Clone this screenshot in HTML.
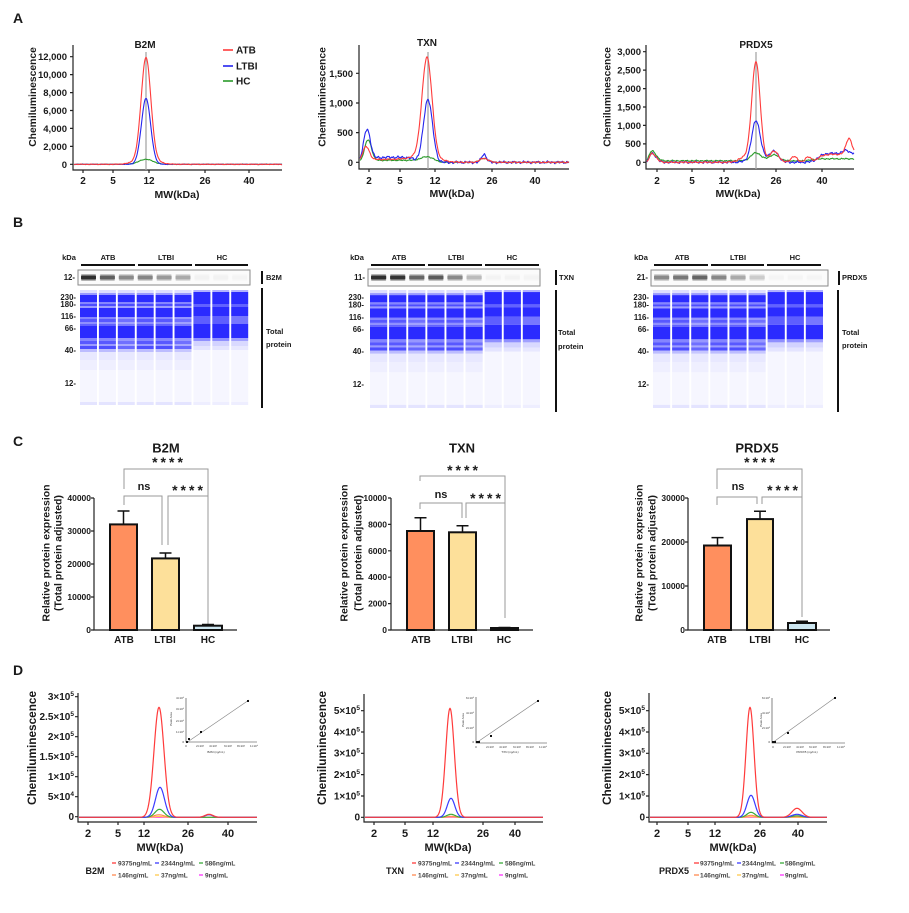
<!DOCTYPE html>
<html><head><meta charset="utf-8"><style>
html,body{margin:0;padding:0;background:#fff;}
svg{display:block;font-family:"Liberation Sans",Arial,sans-serif;font-weight:bold;}
</style></head><body>
<svg id="s" width="909" height="913" viewBox="0 0 909 913" xmlns="http://www.w3.org/2000/svg">
<rect width="909" height="913" fill="#fff"/>
<!-- static shapes -->
<g fill="none" stroke="#222" stroke-width="1.2">
  <!-- A axes -->
  <path d="M73 45V170H282"/>
  <path d="M70 56.7H73M70 74.6H73M70 92.6H73M70 110.5H73M70 128.4H73M70 146.4H73M70 164.3H73M83 170v3M113 170v3M149 170v3M205 170v3M249 170v3"/>
  <path d="M359 45V169H569"/>
  <path d="M356 73.3H359M356 103H359M356 132.6H359M356 162.3H359M369 169v3M400 169v3M435 169v3M492 169v3M535 169v3"/>
  <path d="M646 45V169H854"/>
  <path d="M643 51.7H646M643 70.1H646M643 88.6H646M643 107H646M643 125.4H646M643 143.9H646M643 162.3H646M657 169v3M692 169v3M724 169v3M776 169v3M822 169v3"/>
  <!-- C axes -->
  <path d="M94 498V630H237"/>
  <path d="M91 498H94M91 531H94M91 564H94M91 597H94M91 630H94"/>
  <path d="M391 498V630H533"/>
  <path d="M388 498H391M388 524.4H391M388 550.8H391M388 577.2H391M388 603.6H391M388 630H391"/>
  <path d="M688 498V630H830"/>
  <path d="M685 498H688M685 542H688M685 586H688M685 630H688"/>
  <!-- D axes -->
  <path d="M78 693V822H257"/>
  <path d="M75 696.7H78M75 716.7H78M75 736.7H78M75 756.7H78M75 776.7H78M75 796.7H78M75 816.7H78M88 822v3M118 822v3M144 822v3M188 822v3M228 822v3"/>
  <path d="M364 694V822H543"/>
  <path d="M361 710.7H364M361 732H364M361 753.3H364M361 774.6H364M361 796H364M361 817.3H364M374 822v3M405 822v3M433 822v3M483 822v3M515 822v3"/>
  <path d="M649 693V822H827"/>
  <path d="M646 710.7H649M646 732H649M646 753.3H649M646 774.6H649M646 796H649M646 817.3H649M657 822v3M688 822v3M715 822v3M760 822v3M798 822v3"/>
</g>
<!-- A gray marker lines -->
<g stroke="#a8a8a8" stroke-width="1.3">
  <path d="M146 52V170M428 52V169M756 52V169"/>
</g>
<!-- A legend lines -->
<path d="M223 50H233" stroke="#ff3b3b" stroke-width="1.6"/>
<path d="M223 66H233" stroke="#2424ee" stroke-width="1.6"/>
<path d="M223 81H233" stroke="#2a9a2a" stroke-width="1.6"/>

<!-- B group bars and boxes -->
<g stroke="#111" stroke-width="2">
  <path d="M81 265H135M138 265H192M195 265H248"/>
  <path d="M371 265H425M428 265H482M485 265H539"/>
  <path d="M654 265H708M711 265H764M767 265H821"/>
  <path d="M262 271V284M556 270V285M839 271V285"/>
  <path d="M262 288V408M556 290V412M838 290V412"/>
</g>
<rect x="78" y="270" width="172" height="15" fill="#fbfbfb" stroke="#8a8a8a" stroke-width="1"/>
<rect x="368" y="269" width="172" height="17" fill="#fbfbfb" stroke="#8a8a8a" stroke-width="1"/>
<rect x="651" y="270" width="177" height="16" fill="#fbfbfb" stroke="#8a8a8a" stroke-width="1"/>

<g id="dyn"></g>

<!-- C brackets -->
<g fill="none" stroke="#9a9a9a" stroke-width="1">
  <path d="M124 489V469H208V625"/>
  <path d="M124 505V496H162V545"/>
  <path d="M168 545V496H208"/>
  <path d="M420 481V476H505V618"/>
  <path d="M420 509V503H462V518"/>
  <path d="M466 518V503H505"/>
  <path d="M717 489V469H802V617"/>
  <path d="M717 505V497H757V504"/>
  <path d="M762 504V497H802"/>
</g>
<!-- C bars -->
<g stroke="#111" stroke-width="2">
  <rect x="110" y="524.4" width="27" height="105.6" fill="#ff8f5e"/>
  <rect x="152" y="558.4" width="27" height="71.6" fill="#fde09a"/>
  <rect x="194" y="625.7" width="28" height="4.3" fill="#cde6f0"/>
  <rect x="407" y="531" width="27" height="99" fill="#ff8f5e"/>
  <rect x="449" y="532.3" width="27" height="97.7" fill="#fde09a"/>
  <rect x="491" y="628" width="27" height="2" fill="#cde6f0"/>
  <rect x="704" y="545.5" width="27" height="84.5" fill="#ff8f5e"/>
  <rect x="747" y="519.1" width="26" height="110.9" fill="#fde09a"/>
  <rect x="788" y="623" width="28" height="7" fill="#cde6f0"/>
</g>
<g stroke="#111" stroke-width="1.5" fill="none">
  <path d="M123.5 524V511M117.5 511H129.5"/>
  <path d="M165.5 558V553M159.5 553H171.5"/>
  <path d="M208 625V624M202 624.5H214"/>
  <path d="M420.5 531V517.8M414.5 517.8H426.5"/>
  <path d="M462.5 532V525.7M456.5 525.7H468.5"/>
  <path d="M504.5 627.5H510.5M498.5 627.5H504.5"/>
  <path d="M717.5 545V537.6M711.5 537.6H723.5"/>
  <path d="M760 519V511.2M754 511.2H766"/>
  <path d="M802 623V621.2M796 621.2H808"/>
</g>

<!-- D insets -->
<g fill="none" stroke="#333" stroke-width="0.6">
  <path d="M186 698V742H257"/>
  <path d="M476 697V743H547"/>
  <path d="M772 698V743H845"/>
</g>
<g stroke="#888" stroke-width="0.7">
  <path d="M186 743L249 700"/>
  <path d="M476 743L539 700"/>
  <path d="M772 743L836 697"/>
</g>
<g fill="#111">
  <rect x="186" y="741" width="2" height="2"/><rect x="188" y="738" width="2" height="2"/><rect x="200" y="731" width="2" height="2"/><rect x="247" y="700" width="2" height="2"/>
  <rect x="476" y="741" width="2" height="2"/><rect x="478" y="741" width="2" height="2"/><rect x="490" y="735" width="2" height="2"/><rect x="537" y="700" width="2" height="2"/>
  <rect x="772" y="741" width="2" height="2"/><rect x="774" y="741" width="2" height="2"/><rect x="787" y="732" width="2" height="2"/><rect x="834" y="697" width="2" height="2"/>
</g>
<!-- D legend lines -->
<g stroke-width="1.3">
  <path d="M112 863H116" stroke="#ff3b3b"/><path d="M155 863H159" stroke="#3b3bff"/><path d="M199 863H203" stroke="#3aaa3a"/>
  <path d="M112 875H116" stroke="#ff8a50"/><path d="M155 875H159" stroke="#ffc94d"/><path d="M199 875H203" stroke="#ff33ff"/>
  <path d="M412 863H416" stroke="#ff3b3b"/><path d="M455 863H459" stroke="#3b3bff"/><path d="M499 863H503" stroke="#3aaa3a"/>
  <path d="M412 875H416" stroke="#ff8a50"/><path d="M455 875H459" stroke="#ffc94d"/><path d="M499 875H503" stroke="#ff33ff"/>
  <path d="M694 863H699" stroke="#ff3b3b"/><path d="M737 863H741" stroke="#3b3bff"/><path d="M780 863H784" stroke="#3aaa3a"/>
  <path d="M694 875H699" stroke="#ff8a50"/><path d="M737 875H741" stroke="#ffc94d"/><path d="M780 875H784" stroke="#ff33ff"/>
</g>

<!-- TEXT -->
<g fill="#1a1a1a">
  <!-- panel letters -->
  <text x="13" y="23" font-size="14">A</text>
  <text x="13" y="227" font-size="14">B</text>
  <text x="13" y="446" font-size="14">C</text>
  <text x="13" y="675" font-size="14">D</text>

  <!-- A left -->
  <text x="145" y="48" font-size="10" text-anchor="middle">B2M</text>
  <g font-size="9.5" text-anchor="end">
    <text x="67" y="60">12,000</text><text x="67" y="78">10,000</text><text x="67" y="96">8,000</text>
    <text x="67" y="114">6,000</text><text x="67" y="132">4,000</text><text x="67" y="150">2,000</text><text x="67" y="168">0</text>
  </g>
  <g font-size="10" text-anchor="middle">
    <text x="83" y="184">2</text><text x="113" y="184">5</text><text x="149" y="184">12</text><text x="205" y="184">26</text><text x="249" y="184">40</text>
  </g>
  <text x="177" y="198" font-size="10.5" text-anchor="middle">MW(kDa)</text>
  <text transform="translate(36,97) rotate(-90)" font-size="10.3" text-anchor="middle">Chemiluminescence</text>
  <text x="236" y="53.5" font-size="10">ATB</text>
  <text x="236" y="69.5" font-size="10">LTBI</text>
  <text x="236" y="84.5" font-size="10">HC</text>

  <!-- A middle -->
  <text x="427" y="46" font-size="10" text-anchor="middle">TXN</text>
  <g font-size="9.5" text-anchor="end">
    <text x="353" y="77">1,500</text><text x="353" y="106.5">1,000</text><text x="353" y="136">500</text><text x="353" y="166">0</text>
  </g>
  <g font-size="10" text-anchor="middle">
    <text x="369" y="184">2</text><text x="400" y="184">5</text><text x="435" y="184">12</text><text x="492" y="184">26</text><text x="535" y="184">40</text>
  </g>
  <text x="452" y="197" font-size="10.5" text-anchor="middle">MW(kDa)</text>
  <text transform="translate(325.5,97) rotate(-90)" font-size="10.3" text-anchor="middle">Chemiluminescence</text>

  <!-- A right -->
  <text x="756" y="48" font-size="10" text-anchor="middle">PRDX5</text>
  <g font-size="9.5" text-anchor="end">
    <text x="641" y="55">3,000</text><text x="641" y="73.5">2,500</text><text x="641" y="92">2,000</text><text x="641" y="110.5">1,500</text>
    <text x="641" y="129">1,000</text><text x="641" y="147">500</text><text x="641" y="166">0</text>
  </g>
  <g font-size="10" text-anchor="middle">
    <text x="657" y="184">2</text><text x="692" y="184">5</text><text x="724" y="184">12</text><text x="776" y="184">26</text><text x="822" y="184">40</text>
  </g>
  <text x="738" y="197" font-size="10.5" text-anchor="middle">MW(kDa)</text>
  <text transform="translate(610.5,97) rotate(-90)" font-size="10.3" text-anchor="middle">Chemiluminescence</text>

  <!-- B -->
  <g font-size="7.5" text-anchor="middle">
    <text x="69" y="260">kDa</text><text x="108" y="260">ATB</text><text x="166" y="260">LTBI</text><text x="222" y="260">HC</text>
    <text x="357" y="260">kDa</text><text x="399" y="260">ATB</text><text x="456" y="260">LTBI</text><text x="512" y="260">HC</text>
    <text x="641" y="260">kDa</text><text x="682" y="260">ATB</text><text x="738" y="260">LTBI</text><text x="795" y="260">HC</text>
  </g>
  <g font-size="7.8" text-anchor="end">
    <text x="75" y="280">12-</text>
    <text x="76" y="300">230-</text><text x="76" y="307">180-</text><text x="76" y="319">116-</text><text x="76" y="331">66-</text><text x="76" y="353">40-</text><text x="76" y="386">12-</text>
    <text x="365" y="280">11-</text>
    <text x="364" y="300">230-</text><text x="364" y="307.5">180-</text><text x="364" y="320">116-</text><text x="364" y="332">66-</text><text x="364" y="354">40-</text><text x="364" y="387">12-</text>
    <text x="648" y="280">21-</text>
    <text x="649" y="300">230-</text><text x="649" y="307.5">180-</text><text x="649" y="320">116-</text><text x="649" y="332">66-</text><text x="649" y="354">40-</text><text x="649" y="387">12-</text>
  </g>
  <g font-size="7.5">
    <text x="266" y="280">B2M</text><text x="266" y="334">Total</text><text x="266" y="347">protein</text>
    <text x="559" y="280">TXN</text><text x="558" y="335">Total</text><text x="558" y="349">protein</text>
    <text x="842" y="280">PRDX5</text><text x="842" y="335">Total</text><text x="842" y="348">protein</text>
  </g>

  <!-- C -->
  <text x="166" y="452.5" font-size="13" text-anchor="middle">B2M</text>
  <text x="462" y="452.5" font-size="13" text-anchor="middle">TXN</text>
  <text x="757" y="452.5" font-size="13" text-anchor="middle">PRDX5</text>
  <g font-size="14" letter-spacing="3" text-anchor="middle">
    <text x="169" y="467">****</text>
    <text x="464" y="475">****</text>
    <text x="761" y="467">****</text>
    <text x="189" y="495">****</text>
    <text x="487" y="503">****</text>
    <text x="784" y="495">****</text>
  </g>
  <g font-size="11" text-anchor="middle">
    <text x="144" y="490">ns</text>
    <text x="441" y="498">ns</text>
    <text x="738" y="490">ns</text>
  </g>
  <g font-size="8.5" text-anchor="end">
    <text x="91" y="501">40000</text><text x="91" y="534">30000</text><text x="91" y="567">20000</text><text x="91" y="600">10000</text><text x="91" y="633">0</text>
    <text x="387" y="501">10000</text><text x="387" y="527.4">8000</text><text x="387" y="553.8">6000</text><text x="387" y="580.2">4000</text><text x="387" y="606.6">2000</text><text x="387" y="633">0</text>
    <text x="685" y="501">30000</text><text x="685" y="545">20000</text><text x="685" y="589">10000</text><text x="685" y="633">0</text>
  </g>
  <g font-size="10" text-anchor="middle">
    <text x="124" y="643">ATB</text><text x="165" y="643">LTBI</text><text x="208" y="643">HC</text>
    <text x="421" y="643">ATB</text><text x="462" y="643">LTBI</text><text x="504" y="643">HC</text>
    <text x="717" y="643">ATB</text><text x="760" y="643">LTBI</text><text x="802" y="643">HC</text>
  </g>
  <g font-size="10.5" text-anchor="middle">
    <text transform="translate(49.5,553) rotate(-90)">Relative protein expression</text>
    <text transform="translate(61.5,553) rotate(-90)">(Total protein adjusted)</text>
    <text transform="translate(347.5,553) rotate(-90)">Relative protein expression</text>
    <text transform="translate(361.5,553) rotate(-90)">(Total protein adjusted)</text>
    <text transform="translate(642.5,553) rotate(-90)">Relative protein expression</text>
    <text transform="translate(655.5,553) rotate(-90)">(Total protein adjusted)</text>
  </g>

  <!-- D -->
  <g font-size="10" text-anchor="end">
    <text x="74" y="700">3×10<tspan dy="-4" font-size="6.5">5</tspan></text>
    <text x="74" y="720">2.5×10<tspan dy="-4" font-size="6.5">5</tspan></text>
    <text x="74" y="740">2×10<tspan dy="-4" font-size="6.5">5</tspan></text>
    <text x="74" y="760">1.5×10<tspan dy="-4" font-size="6.5">5</tspan></text>
    <text x="74" y="780">1×10<tspan dy="-4" font-size="6.5">5</tspan></text>
    <text x="74" y="800">5×10<tspan dy="-4" font-size="6.5">4</tspan></text>
    <text x="74" y="820">0</text>
    <text x="360" y="714">5×10<tspan dy="-4" font-size="6.5">5</tspan></text>
    <text x="360" y="735.5">4×10<tspan dy="-4" font-size="6.5">5</tspan></text>
    <text x="360" y="756.5">3×10<tspan dy="-4" font-size="6.5">5</tspan></text>
    <text x="360" y="778">2×10<tspan dy="-4" font-size="6.5">5</tspan></text>
    <text x="360" y="799.5">1×10<tspan dy="-4" font-size="6.5">5</tspan></text>
    <text x="360" y="820.5">0</text>
    <text x="645" y="714">5×10<tspan dy="-4" font-size="6.5">5</tspan></text>
    <text x="645" y="735.5">4×10<tspan dy="-4" font-size="6.5">5</tspan></text>
    <text x="645" y="756.5">3×10<tspan dy="-4" font-size="6.5">5</tspan></text>
    <text x="645" y="778">2×10<tspan dy="-4" font-size="6.5">5</tspan></text>
    <text x="645" y="799.5">1×10<tspan dy="-4" font-size="6.5">5</tspan></text>
    <text x="645" y="820.5">0</text>
  </g>
  <g font-size="11" text-anchor="middle">
    <text x="88" y="837">2</text><text x="118" y="837">5</text><text x="144" y="837">12</text><text x="188" y="837">26</text><text x="228" y="837">40</text>
    <text x="374" y="837">2</text><text x="405" y="837">5</text><text x="433" y="837">12</text><text x="483" y="837">26</text><text x="515" y="837">40</text>
    <text x="657" y="837">2</text><text x="688" y="837">5</text><text x="715" y="837">12</text><text x="760" y="837">26</text><text x="798" y="837">40</text>
    <text x="160" y="851">MW(kDa)</text><text x="448" y="851">MW(kDa)</text><text x="733" y="851">MW(kDa)</text>
  </g>
  <g font-size="11.8" text-anchor="middle">
    <text transform="translate(36,748) rotate(-90)">Chemiluminescence</text>
    <text transform="translate(326,748) rotate(-90)">Chemiluminescence</text>
    <text transform="translate(611,748) rotate(-90)">Chemiluminescence</text>
  </g>
  <g font-size="9" text-anchor="middle">
    <text x="95" y="874">B2M</text><text x="395" y="874">TXN</text><text x="674" y="874">PRDX5</text>
  </g>
  <g font-size="6.5" fill="#444">
    <text x="118" y="865.5">9375ng/mL</text><text x="161" y="865.5">2344ng/mL</text><text x="205" y="865.5">586ng/mL</text>
    <text x="118" y="877.5">146ng/mL</text><text x="161" y="877.5">37ng/mL</text><text x="205" y="877.5">9ng/mL</text>
    <text x="418" y="865.5">9375ng/mL</text><text x="461" y="865.5">2344ng/mL</text><text x="505" y="865.5">586ng/mL</text>
    <text x="418" y="877.5">146ng/mL</text><text x="461" y="877.5">37ng/mL</text><text x="505" y="877.5">9ng/mL</text>
    <text x="700" y="865.5">9375ng/mL</text><text x="742" y="865.5">2344ng/mL</text><text x="785" y="865.5">586ng/mL</text>
    <text x="700" y="877.5">146ng/mL</text><text x="742" y="877.5">37ng/mL</text><text x="785" y="877.5">9ng/mL</text>
  </g>
  <!-- inset tiny labels -->
  <g font-size="3" font-weight="normal" fill="#333">
    <g text-anchor="end">
      <text x="184" y="699">4×10⁶</text><text x="184" y="710">3×10⁶</text><text x="184" y="722">2×10⁶</text><text x="184" y="733">1×10⁶</text><text x="184" y="743">0</text>
      <text x="474" y="699">6×10⁵</text><text x="474" y="714">4×10⁵</text><text x="474" y="729">2×10⁵</text><text x="474" y="743">0</text>
      <text x="770" y="699">6×10⁵</text><text x="770" y="714">4×10⁵</text><text x="770" y="729">2×10⁵</text><text x="770" y="743">0</text>
    </g>
    <g text-anchor="middle">
      <text x="186" y="747">0</text><text x="200" y="747">2×10³</text><text x="213" y="747">4×10³</text><text x="228" y="747">6×10³</text><text x="241" y="747">8×10³</text><text x="254" y="747">1×10⁴</text>
      <text x="476" y="748">0</text><text x="490" y="748">2×10³</text><text x="503" y="748">4×10³</text><text x="517" y="748">6×10³</text><text x="530" y="748">8×10³</text><text x="543" y="748">1×10⁴</text>
      <text x="773" y="748">0</text><text x="787" y="748">2×10³</text><text x="800" y="748">4×10³</text><text x="813" y="748">6×10³</text><text x="827" y="748">8×10³</text><text x="841" y="748">1×10⁴</text>
      <text x="216" y="753">B2M (ng/mL)</text>
      <text x="510" y="753">TXN (ng/mL)</text>
      <text x="807" y="753">PRDX5 (ng/mL)</text>
      <text transform="translate(172,719) rotate(-90)">Peak Area</text>
      <text transform="translate(464,720) rotate(-90)">Peak Area</text>
      <text transform="translate(762,720) rotate(-90)">Peak Area</text>
    </g>
  </g>
</g>
</svg>
<script>
(function(){
var NS='http://www.w3.org/2000/svg';
var g=document.getElementById('dyn');
function el(tag,a){var e=document.createElementNS(NS,tag);for(var k in a)e.setAttribute(k,a[k]);g.appendChild(e);return e;}
function G(x,c,h,s){var t=(x-c)/s;return h*Math.exp(-0.5*t*t);}
function S(x,a,b,k){return 1/(1+Math.exp(-(x-a)/k))/(1+Math.exp((x-b)/k));}
function N(x,seed,a){return a*(Math.sin(x*1.3+seed)*0.6+Math.sin(x*2.9+seed*1.7)*0.4+Math.sin(x*0.55+seed*0.3)*0.3);}
function curve(x0,x1,y0,f,color,w){var d='';for(var x=x0;x<=x1+1e-6;x+=0.5){d+=(d?'L':'M')+x.toFixed(1)+' '+(y0-f(x)).toFixed(2);}el('path',{d:d,fill:'none',stroke:color,'stroke-width':w||1,'stroke-linejoin':'round'});}

var R='#ff3b3b',B='#2424ee',Gr='#2a9a2a';
// A left B2M
curve(74,282,164.3,function(x){return G(x,146,5,7)+N(x,1,0.3);},Gr,1.1);
curve(74,282,164.3,function(x){return G(x,146,66,4.6)+N(x,2,0.2);},B,1.1);
curve(74,282,164.3,function(x){return G(x,146,101,4.8)+G(x,146,6,10)+N(x,3,0.3);},R,1.1);
// A middle TXN
curve(360,569,162.3,function(x){return G(x,368,22,3.5)+2*S(x,372,425,3)+G(x,428,5,6)+G(x,484,4,4)+N(x,4,0.5);},Gr,1.1);
curve(360,569,162.3,function(x){return G(x,367,32,3.5)+5*S(x,372,415,3)+G(x,428,63,4.5)+G(x,484,8,2.5)+N(x,6,1.2);},B,1.1);
curve(360,569,162.3,function(x){return G(x,366,15,3.5)+3*S(x,370,420,3)+G(x,427,100,5)+G(x,427,5,12)+G(x,484,4,4)+N(x,5,0.6);},R,1.1);
// A right PRDX5
curve(647,854,162.3,function(x){return G(x,652,10,4)+1.5+G(x,756,8,5)+G(x,774,6,5)+2*S(x,812,870,3)+N(x,7,0.6)-G(x,647,4,2);},Gr,1.1);
curve(647,854,162.3,function(x){return G(x,652,9,4)+G(x,756,39,4.2)+G(x,774,10,4.5)+G(x,760,3,10)+9*S(x,818,870,3)+G(x,846,3,3)+N(x,8,1)-G(x,647,4,2);},B,1.1);
curve(647,854,162.3,function(x){return G(x,652,9,4)+G(x,756,100,4.2)+G(x,745,5,6)+G(x,774,11,4.5)+G(x,794,6,3)+G(x,808,5,3)+8*S(x,818,870,3)+G(x,849,16,3)+N(x,9,0.7)-G(x,647,4,2);},R,1.1);

// D
var dR='#ff3b3b',dB='#3b3bff',dG='#3aaa3a',dO='#ff8a50',dY='#ffc94d',dM='#ff33ff';
function D(x0,x1,specs){specs.forEach(function(s){curve(x0,x1,817.3,s[0],s[1],1.2);});}
D(79,257,[
 [function(x){return 0;},dM],[function(x){return G(x,159,0.8,5);},dY],
 [function(x){return G(x,159,2.5,5);},dO],[function(x){return G(x,159.5,8,4.5);},dG],
 [function(x){return G(x,160,30,4.5)+G(x,209,2.5,4);},dB],[function(x){return G(x,159,110,5)+G(x,209,3,4);},dR]]);
D(365,543,[
 [function(x){return 0;},dM],[function(x){return G(x,451,0.5,4);},dY],
 [function(x){return G(x,451,1,4);},dO],[function(x){return G(x,451,3,4);},dG],
 [function(x){return G(x,451,19,3.8);},dB],[function(x){return G(x,450,109,4.3);},dR]]);
D(650,827,[
 [function(x){return 0;},dM],[function(x){return G(x,751,0.6,4);},dY],
 [function(x){return G(x,751,2,4)+G(x,797,0.8,5);},dO],[function(x){return G(x,751,5,4)+G(x,797,1.5,5);},dG],
 [function(x){return G(x,751,22,4)+G(x,797,3,5);},dB],[function(x){return G(x,750,110,4)+G(x,797,9,5);},dR]]);

// Gels
var PA=[[0,3,.15],[3,5,.45],[5,12,.95],[12,14,.55],[14,16,.8],[16,18,.45],[18,27,.95],[27,29,.55],[29,32,.75],[32,34,.5],[34,36,.7],[36,48,.95],[48,51,.55],[51,54,.75],[54,56,.45],[56,59,.8],[59,62,.3],[62,70,.1],[70,80,.07],[80,112,.04],[112,115,.12]];
var PH=[[0,2,.35],[2,14,.95],[14,17,.7],[17,26,.95],[26,34,.72],[34,48,.95],[48,51,.5],[51,56,.2],[56,60,.12],[60,112,.04],[112,115,.08]];
function gel(x0,pitch,w,y0,sc){for(var i=0;i<9;i++){var P=i<6?PA:PH;var x=x0+i*pitch;var var_=(i%3==2)?0.85:1;
 P.forEach(function(p){var o=p[2];if(p[0]>=26&&p[1]<=62&&o<0.9)o*=var_;el('rect',{x:x.toFixed(1),y:(y0+p[0]*sc).toFixed(2),width:w,height:((p[1]-p[0])*sc).toFixed(2),fill:'#2020ff','fill-opacity':o});});}}
gel(80,18.9,17,290,1);
gel(370,19.1,17.2,290,118/115);
gel(653,19.1,17.2,290,118/115);

function bands(x0,pitch,w,cols){cols.forEach(function(c,i){if(!c)return;var x=x0+i*pitch+1;
 el('rect',{x:x.toFixed(1),y:274,width:w-2,height:7,fill:c,'fill-opacity':.35,rx:1});
 el('rect',{x:x.toFixed(1),y:275.5,width:w-2,height:4,fill:c,rx:1});});}
bands(80,18.9,17,['#2e2e2e','#606060','#8a8a8a','#858585','#999','#aaa','#f2f2f2','#f2f2f2','#f4f4f4']);
bands(370,19.1,17.2,['#2e2e2e','#333','#666','#5a5a5a','#888','#bbb','#f3f3f3','#f3f3f3','#f4f4f4']);
bands(653,19.1,17.2,['#8a8a8a','#777','#666','#888','#aaa','#ccc','#f5f5f5','#f5f5f5','#f5f5f5']);
})();
</script>
</body></html>
